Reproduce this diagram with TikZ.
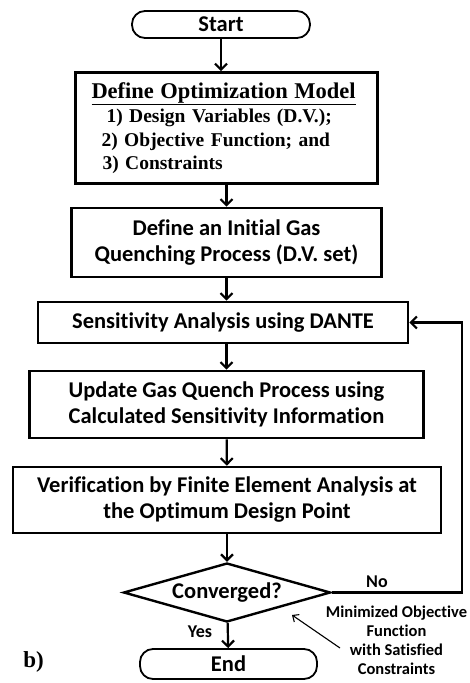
\documentclass[tikz,border=0pt]{standalone}
\usepackage{fontspec}
\setmainfont[Ligatures=NoCommon]{Carlito}
\newfontfamily\timesfont{Liberation Serif}
\usetikzlibrary{positioning,shapes.geometric,arrows.meta}

\begin{document}
\begin{tikzpicture}[
    x=1pt, y=-1pt,
    >={Straight Barb[length=6pt,width=12pt]},
    every node/.style={align=center, inner sep=0pt, font=\bfseries\fontsize{22.5}{26}\selectfont},
    terminal/.style={draw, line width=1.8pt, rounded corners=13pt, minimum width=178pt, minimum height=27pt},
    stepbox/.style={draw, line width=2.6pt},
    decision/.style={draw, line width=2.4pt, diamond, aspect=3.5, minimum width=207pt, minimum height=59pt},
    flow/.style={->, line width=2.2pt},
    note/.style={font=\bfseries\fontsize{16.5}{19}\selectfont},
    tag/.style={font=\bfseries\fontsize{18}{20}\selectfont}
]
\useasboundingbox (0,0) rectangle (470,683);

% Nodes
\node[terminal] (start) at (221,24.5) {Start};
\node[stepbox, minimum width=302pt, minimum height=111pt, text width=270pt, align=left,
      font=\timesfont\bfseries\fontsize{19.5}{23.5}\selectfont] (model) at (226.5,128)
    {{\fontsize{22.5}{26}\selectfont\underline{Define Optimization Model}}\\[1pt]
     \hspace*{15pt}1) Design Variables (D.V.);\\
     \hspace*{10pt}2) Objective Function; and\\
     \hspace*{11pt}3) Constraints};
\node[stepbox, minimum width=310pt, minimum height=69pt] (init) at (226.5,242.5)
    {Define an Initial Gas\\Quenching Process (D.V. set)};
\node[stepbox, minimum width=370pt, minimum height=41pt] (sens) at (223,322.5)
    {Sensitivity Analysis using DANTE};
\node[stepbox, minimum width=394pt, minimum height=67pt] (update) at (226.5,404.5)
    {Update Gas Quench Process using\\Calculated Sensitivity Information};
\node[stepbox, minimum width=428pt, minimum height=66pt] (verif) at (227,500)
    {Verification by Finite Element Analysis at\\the Optimum Design Point};
\node[decision] (conv) at (227,592.5) {Converged?};
\node[terminal, minimum width=177pt, minimum height=30pt] (end) at (228.5,664) {End};

% Labels
\node[tag] (no) at (377,582) {No};
\node[tag] (yes) at (200,632) {Yes};
\node[note] (why) at (396.5,640)
    {Minimized Objective\\Function\\with Satisfied\\Constraints};
\node[font=\timesfont\bfseries\fontsize{23}{25}\selectfont] (panel) at (33.5,662) {b)};

% Arrows
\draw[flow] (start) -- (start |- model.north);
\draw[flow] (model) -- (init);
\draw[flow] (init) -- (init |- sens.north);
\draw[flow] (sens.south -| update) -- (update);
\draw[flow] (update) -- (verif);
\draw[flow] (verif) -- (conv);
\draw[flow] (conv) -- (end);

% Loop back
\coordinate (turn) at (462,592.5);
\draw[flow] (conv.east) -- (turn) |- (sens.east);

% Note arrow
\coordinate (tail) at (340,648);
\coordinate (tip) at (292,615);
\draw[->, line width=1.1pt, >={Straight Barb[length=5pt,width=9pt]}] (tail) -- (tip);

\end{tikzpicture}
\end{document}
